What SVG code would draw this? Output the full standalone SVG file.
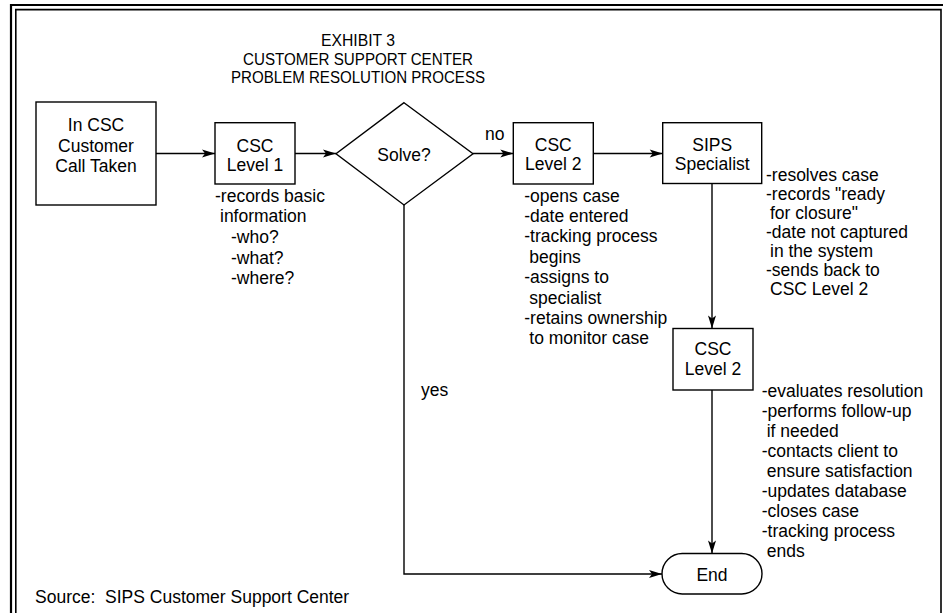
<svg xmlns="http://www.w3.org/2000/svg" width="943" height="613" viewBox="0 0 943 613">
<style>
.t{font-family:"Liberation Sans",Arial,sans-serif;font-size:17.5px;fill:#000}
.c{text-anchor:middle}
.ttl{font-family:"Liberation Sans Narrow","Liberation Sans",Arial,sans-serif;font-size:16px;text-anchor:middle;fill:#000}
.box{fill:#fff;stroke:#000;stroke-width:1.4}
.ln{fill:none;stroke:#000;stroke-width:1.4}
.frame{fill:none;stroke:#000}
</style>
<defs>
<marker id="ah" markerUnits="userSpaceOnUse" markerWidth="16" markerHeight="10" refX="14" refY="5" orient="auto" viewBox="0 0 16 10">
<path d="M14,5 L1,1 L4,5 L1,9 Z" fill="#000"/>
</marker>
</defs>
<rect width="943" height="613" fill="#fff"/>
<g id="frame">
<path class="frame" stroke-width="2.2" d="M11,620 V5 H950"/>
<path class="frame" stroke-width="1.6" d="M15.8,620 V9.6 H941 V620"/>
</g>
<g id="title">
<text class="ttl" x="358" y="46" textLength="74" lengthAdjust="spacingAndGlyphs">EXHIBIT 3</text>
<text class="ttl" x="358" y="64.5" textLength="230" lengthAdjust="spacingAndGlyphs">CUSTOMER SUPPORT CENTER</text>
<text class="ttl" x="358" y="83" textLength="254" lengthAdjust="spacingAndGlyphs">PROBLEM RESOLUTION PROCESS</text>
</g>
<g id="connectors">
<path class="ln" d="M156,153.5 H215" marker-end="url(#ah)"/>
<path class="ln" d="M295,153.5 H336" marker-end="url(#ah)"/>
<path class="ln" d="M473,153.5 H513.3" marker-end="url(#ah)"/>
<path class="ln" d="M593.3,153.5 H662.7" marker-end="url(#ah)"/>
<path class="ln" d="M712,183.5 V328.5" marker-end="url(#ah)"/>
<path class="ln" d="M712,390 V553.5" marker-end="url(#ah)"/>
<path class="ln" d="M404,205 V574 H662" marker-end="url(#ah)"/>
<text class="t" x="485" y="139.5">no</text>
<text class="t" x="421" y="396">yes</text>
</g>
<g id="node-call-taken">
<rect class="box" x="36" y="102" width="120" height="103"/>
<text class="t c" x="96" y="131">In CSC</text>
<text class="t c" x="96" y="151.5">Customer</text>
<text class="t c" x="96" y="172">Call Taken</text>
</g>
<g id="node-csc-level1">
<rect class="box" x="215" y="122.7" width="80" height="61.3"/>
<text class="t c" x="255" y="151.5">CSC</text>
<text class="t c" x="255" y="170.7">Level 1</text>
<text class="t" x="215" y="201.7">-records basic</text>
<text class="t" x="220" y="222">information</text>
<text class="t" x="231" y="243">-who?</text>
<text class="t" x="231" y="263.5">-what?</text>
<text class="t" x="231" y="284">-where?</text>
</g>
<g id="node-solve">
<polygon class="box" points="404,102.7 473,153.8 404,205 336,153.8"/>
<text class="t c" x="404" y="161">Solve?</text>
</g>
<g id="node-csc-level2">
<rect class="box" x="513.3" y="122.7" width="80" height="61.3"/>
<text class="t c" x="553.3" y="150.7">CSC</text>
<text class="t c" x="553.3" y="170">Level 2</text>
<text class="t" x="524.3" y="201.7">-opens case</text>
<text class="t" x="524.3" y="222">-date entered</text>
<text class="t" x="524.3" y="242.4">-tracking process</text>
<text class="t" x="529.3" y="262.8">begins</text>
<text class="t" x="524.3" y="283.2">-assigns to</text>
<text class="t" x="529.3" y="303.6">specialist</text>
<text class="t" x="524.3" y="324">-retains ownership</text>
<text class="t" x="529.3" y="344.3">to monitor case</text>
</g>
<g id="node-sips">
<rect class="box" x="662.7" y="122.7" width="99" height="60.8"/>
<text class="t c" x="712.2" y="150.7">SIPS</text>
<text class="t c" x="712.2" y="170">Specialist</text>
<text class="t" x="766" y="181">-resolves case</text>
<text class="t" x="766" y="200">-records "ready</text>
<text class="t" x="770" y="219">for closure"</text>
<text class="t" x="766" y="238">-date not captured</text>
<text class="t" x="770" y="257">in the system</text>
<text class="t" x="766" y="276">-sends back to</text>
<text class="t" x="770" y="295">CSC Level 2</text>
</g>
<g id="node-csc-level2-final">
<rect class="box" x="673" y="328.5" width="80" height="61.5"/>
<text class="t c" x="713" y="355">CSC</text>
<text class="t c" x="713" y="375">Level 2</text>
<text class="t" x="761.7" y="396.7">-evaluates resolution</text>
<text class="t" x="761.7" y="416.7">-performs follow-up</text>
<text class="t" x="766.7" y="436.7">if needed</text>
<text class="t" x="761.7" y="456.7">-contacts client to</text>
<text class="t" x="766.7" y="476.7">ensure satisfaction</text>
<text class="t" x="761.7" y="496.7">-updates database</text>
<text class="t" x="761.7" y="516.7">-closes case</text>
<text class="t" x="761.7" y="536.7">-tracking process</text>
<text class="t" x="766.7" y="556.7">ends</text>
</g>
<g id="node-end">
<rect class="box" x="662" y="553.5" width="100" height="40.5" rx="20.25" ry="20.25"/>
<text class="t c" x="712" y="581">End</text>
</g>
<text class="t" x="35" y="602.7" xml:space="preserve">Source:  SIPS Customer Support Center</text>
</svg>
